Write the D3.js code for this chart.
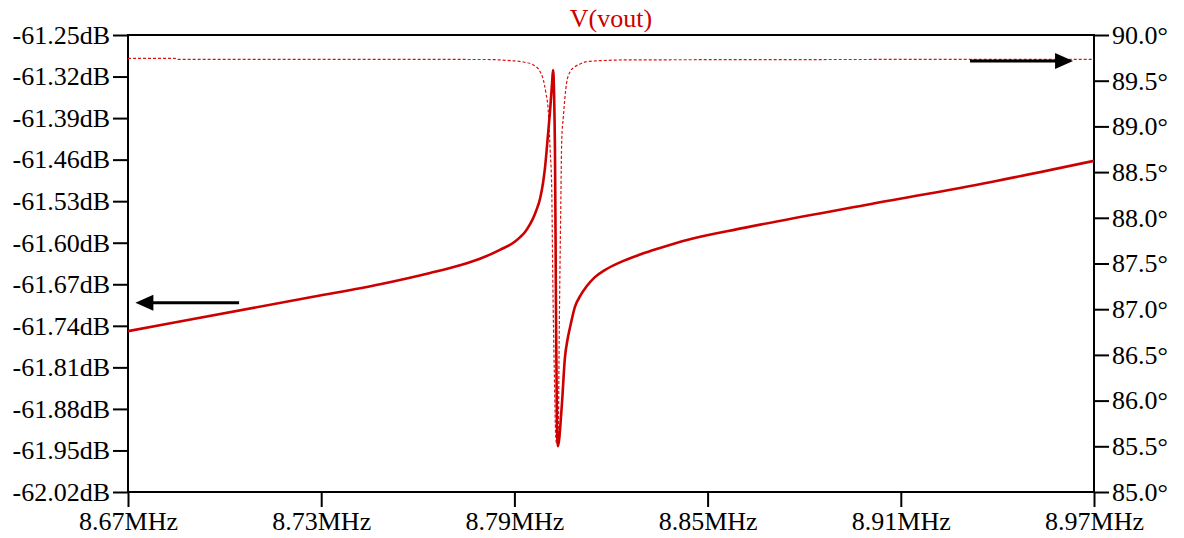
<!DOCTYPE html>
<html>
<head>
<meta charset="utf-8">
<script src="https://cdn.jsdelivr.net/npm/d3@7/dist/d3.min.js"></script>
<style>
    body { margin: 0; background: #fff; }
    svg { display: block; }
    svg text, .axis { font-family: "Liberation Serif", "Times New Roman", serif; }
    .axis text { font-size: 26px; fill: #000; }
    .axis line { stroke: #000; stroke-width: 2; }
    .frame { fill: none; stroke: #000; stroke-width: 2; }
    .mag { fill: none; stroke: #cc0000; stroke-width: 2.6; stroke-linejoin: round; }
    .phase { fill: none; stroke: #dd1111; stroke-width: 1.2; stroke-dasharray: 3,2; }
</style>
</head>
<body>
<svg id="svg" width="1184" height="538"></svg>
<script>

// Magnitude trace V(vout), dB (left axis)
var magFreq = [8.6700, 8.7275, 8.7483, 8.7638, 8.7731, 8.7793, 8.7855, 8.7902, 8.7917, 8.7933,
               8.7945, 8.7958, 8.7967, 8.7980, 8.7989, 8.7995, 8.8004, 8.8011, 8.8017, 8.8020,
               8.8026, 8.8029, 8.8032, 8.8035, 8.8047, 8.8057, 8.8065, 8.8073, 8.8088, 8.8104,
               8.8125, 8.8150, 8.8181, 8.8228, 8.8290, 8.8352, 8.8439, 8.8613, 8.8995, 8.9377,
               8.9700];
var magDb = [-61.749, -61.691, -61.670, -61.651, -61.638, -61.627, -61.612, -61.598, -61.591, -61.582,
             -61.572, -61.559, -61.547, -61.525, -61.499, -61.474, -61.420, -61.376, -61.331, -61.309,
             -61.444, -61.697, -61.899, -61.943, -61.876, -61.793, -61.763, -61.742, -61.708, -61.690,
             -61.673, -61.658, -61.646, -61.633, -61.620, -61.609, -61.595, -61.575, -61.536, -61.498,
             -61.462];

// Phase trace, degrees (right axis)
var phFreq = [8.6700, 8.6846, 8.6850, 8.7809, 8.7889, 8.7928, 8.7959, 8.7980, 8.7990, 8.7998,
              8.8005, 8.8011, 8.8016, 8.8019, 8.8024, 8.8029, 8.8032, 8.8036, 8.8039, 8.8044,
              8.8047, 8.8052, 8.8062, 8.8073, 8.8088, 8.8104, 8.8125, 8.8166, 8.8265, 8.9700];
var phDeg = [89.745, 89.745, 89.734, 89.732, 89.719, 89.705, 89.672, 89.598, 89.508, 89.362,
             89.179, 88.742, 88.304, 87.396, 86.302, 85.569, 85.525, 85.569, 86.663, 88.118,
             88.851, 89.106, 89.472, 89.598, 89.653, 89.683, 89.708, 89.719, 89.728, 89.734];

// Tick labels
var xTicks = [8.67, 8.73, 8.79, 8.85, 8.91, 8.97];
var dbTicks = [-61.25, -61.32, -61.39, -61.46, -61.53, -61.60, -61.67, -61.74, -61.81, -61.88, -61.95, -62.02];
var degTicks = [90.0, 89.5, 89.0, 88.5, 88.0, 87.5, 87.0, 86.5, 86.0, 85.5, 85.0];

var title = "V(vout)";

var svg = d3.select("#svg");

// Plot box
var margin = {top: 35, right: 90, bottom: 46, left: 128};
var width = 1184 - margin.left - margin.right;
var height = 538 - margin.top - margin.bottom;

var g = svg.append("g").attr("transform", "translate(" + margin.left + "," + margin.top + ")");

var x = d3.scaleLinear().domain([8.67, 8.97]).range([0, width]);
var yDb = d3.scaleLinear().domain([-62.02, -61.25]).range([height, 0]);
var yDeg = d3.scaleLinear().domain([85, 90]).range([height, 0]);

g.append("clipPath").attr("id", "clip")
    .append("rect").attr("width", width).attr("height", height);

// Axes (domain paths removed, the frame is drawn separately)
g.append("g").attr("class", "axis")
    .call(d3.axisLeft(yDb).tickValues(dbTicks).tickSize(15).tickPadding(3)
        .tickFormat(function(d) { return d.toFixed(2) + "dB"; }))
    .call(function(a) { a.select(".domain").remove(); });

g.append("g").attr("class", "axis")
    .attr("transform", "translate(" + width + ",0)")
    .call(d3.axisRight(yDeg).tickValues(degTicks).tickSize(15).tickPadding(3)
        .tickFormat(function(d) { return d.toFixed(1) + "\u00b0"; }))
    .call(function(a) { a.select(".domain").remove(); });

g.append("g").attr("class", "axis")
    .attr("transform", "translate(0," + height + ")")
    .call(d3.axisBottom(x).tickValues(xTicks).tickSize(15).tickPadding(5)
        .tickFormat(function(d) { return d.toFixed(2) + "MHz"; }))
    .call(function(a) { a.select(".domain").remove(); });

g.selectAll(".axis").attr("font-family", null).attr("font-size", null);
g.selectAll(".axis text").attr("fill", "#000");

g.append("rect").attr("class", "frame").attr("width", width).attr("height", height);

// Traces
var plot = g.append("g").attr("clip-path", "url(#clip)");

var phaseLine = d3.line()
    .x(function(d, i) { return x(phFreq[i]); })
    .y(function(d) { return yDeg(d); })
    .curve(d3.curveMonotoneX);

var magLine = d3.line()
    .x(function(d, i) { return x(magFreq[i]); })
    .y(function(d) { return yDb(d); })
    .curve(d3.curveMonotoneX);

plot.append("path").attr("class", "phase").attr("d", phaseLine(phDeg));
plot.append("path").attr("class", "mag").attr("d", magLine(magDb));

// Arrows telling which axis belongs to which trace
function arrow(x0, x1, yy) {
    var dir = x1 > x0 ? 1 : -1;
    g.append("line")
        .attr("x1", x0).attr("x2", x1 - dir * 14)
        .attr("y1", yy).attr("y2", yy)
        .attr("stroke", "#000").attr("stroke-width", 3);
    g.append("path")
        .attr("d", "M" + x1 + "," + yy + "L" + (x1 - dir * 18) + "," + (yy - 8) + "L" + (x1 - dir * 18) + "," + (yy + 8) + "Z")
        .attr("fill", "#000");
}
arrow(x(8.7045), x(8.6723), yDb(-61.701));
arrow(x(8.9315), x(8.9635), yDeg(89.716));

// Title
svg.append("text")
    .attr("x", margin.left + width / 2).attr("y", 27)
    .attr("text-anchor", "middle")
    .attr("font-size", 26)
    .attr("fill", "#cc0000")
    .text(title);

</script>
</body>
</html>
